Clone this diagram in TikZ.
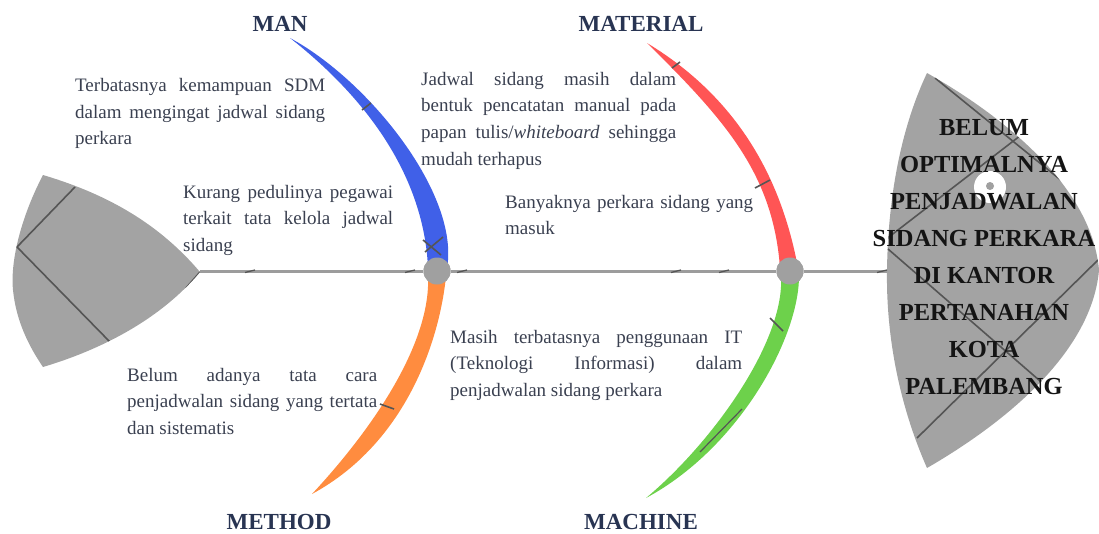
\documentclass[tikz,border=0pt]{standalone}
\usepackage{fontspec}
\setmainfont{Liberation Serif}
\definecolor{bodytext}{RGB}{58,64,80}
\definecolor{titlec}{RGB}{40,52,82}
\definecolor{shapeg}{RGB}{163,163,163}
\definecolor{spineg}{RGB}{156,156,156}
\definecolor{jointc}{RGB}{160,160,160}
\definecolor{darkl}{RGB}{85,85,85}
\definecolor{boneblue}{RGB}{64,96,232}
\definecolor{bonered}{RGB}{255,85,85}
\definecolor{boneorange}{RGB}{255,140,63}
\definecolor{bonegreen}{RGB}{109,209,75}
\newcommand{\jl}[2]{\makebox[#1][s]{#2}}
\begin{document}
\begin{tikzpicture}[x=1pt,y=-1pt,
  txt/.style={inner sep=0pt, text=bodytext, font=\fontsize{19}{26.7}\selectfont},
  ttl/.style={inner sep=0pt, text=titlec, font=\bfseries\fontsize{23}{27}\selectfont},
  hd/.style={inner sep=0pt, text=black!92, font=\bfseries\fontsize{24.5}{37}\selectfont},
  headline/.style={draw=darkl, line width=1.6pt},
  bonetick/.style={draw=darkl, line width=1.6pt},
  joint/.style={circle, fill=jointc, minimum size=27pt, inner sep=0pt}
]
\useasboundingbox (0,0) rectangle (1099,533);
% tail
\def\tailpath{(43,175) .. controls (110,195) and (160,225) .. (200,272)
  .. controls (160,320) and (100,350) .. (43,367)
  .. controls (28,345) and (16,320) .. (13,290)
  .. controls (10,260) and (22,215) .. (43,175) -- cycle}
\fill[shapeg] \tailpath;
\begin{scope}
\clip \tailpath;
\draw[headline] (75,187) -- (17,247) -- (110,342);
\draw[headline] (186,288) -- (200,272);
\end{scope}
% head
\def\headpath{(927,73) .. controls (1010,120) and (1092,190) .. (1099,270)
  .. controls (1092,350) and (1010,420) .. (927,468)
  .. controls (897,400) and (886,330) .. (887,270)
  .. controls (888,200) and (900,130) .. (927,73) -- cycle}
\fill[shapeg] \headpath;
\begin{scope}
\clip \headpath;
\draw[headline] (935,78) -- (1110,220);
\draw[headline] (885,240) -- (1060,105);
\draw[headline] (888,249) -- (1085,420);
\draw[headline] (917,438) -- (1100,258);
\end{scope}
\fill[white] (990,187) circle[radius=16];
\fill[jointc] (990,186) circle[radius=4];
% spine
\coordinate (tailtip) at (200,271);
\coordinate (headleft) at (887,271);
\node[joint] (j1) at (437,271) {};
\node[joint] (j2) at (790,271) {};
\draw[spineg, line width=3pt] (tailtip) -- (j1) -- (j2) -- (headleft);
\foreach \x in {250,410,462,676,724,882}
  \draw[bonetick, line width=1.3pt] (\x-5,272.5) -- (\x+5,270);
% bones
\fill[boneblue] (290,38) .. controls (369,100) and (424,178) .. (428,268)
  -- (447,268) .. controls (460,194) and (368,80) .. (290,38) -- cycle;
\fill[boneorange] (446,276) .. controls (440,337) and (408,442) .. (312,494)
  .. controls (378,423) and (431,340) .. (428,276) -- cycle;
\fill[bonered] (647,43) .. controls (726,121) and (773,174) .. (780,268)
  -- (798,268) .. controls (784,193) and (748,104) .. (647,43) -- cycle;
\fill[bonegreen] (799,276) .. controls (799,338) and (739,448) .. (646,498)
  .. controls (713,442) and (785,341) .. (781,276) -- cycle;
% bone ticks
\draw[bonetick] (362,110) -- (371,103);
\draw[bonetick] (425,252) -- (443,237);
\draw[bonetick] (423,240) -- (441,255);
\draw[bonetick] (672,68) -- (680,62);
\draw[bonetick] (755,188) -- (770,180);
\draw[bonetick] (380,404) -- (394,409);
\draw[bonetick] (770,318) -- (783,331);
\draw[bonetick, line width=1.2pt] (700,452) -- (742,409);
% joints on top
\fill[jointc] (j1) circle[radius=13.5];
\fill[jointc] (j2) circle[radius=13.5];
% titles
\node[ttl] (man) at (280,23.5) {MAN};
\node[ttl] (material) at (641,23.5) {MATERIAL};
\node[ttl] (method) at (279,521.5) {METHOD};
\node[ttl] (machine) at (641,521.5) {MACHINE};
% texts
\node[txt, anchor=base west] (t1) at (75,91.5) {\parbox[t]{250pt}{%
  \jl{250pt}{Terbatasnya kemampuan SDM}\\
  \jl{250pt}{dalam mengingat jadwal sidang}\\
  perkara}};
\node[txt, anchor=base west] (t2) at (183,198) {\parbox[t]{210pt}{%
  \jl{210pt}{Kurang pedulinya pegawai}\\
  \jl{210pt}{terkait tata kelola jadwal}\\
  sidang}};
\node[txt, anchor=base west] (t3) at (421,85) {\parbox[t]{255pt}{%
  \jl{255pt}{Jadwal sidang masih dalam}\\
  \jl{255pt}{bentuk pencatatan manual pada}\\
  \jl{255pt}{papan tulis/\textit{whiteboard} sehingga}\\
  mudah terhapus}};
\node[txt, anchor=base west] (t4) at (505,208) {\parbox[t]{248pt}{%
  \jl{248pt}{Banyaknya perkara sidang yang}\\
  masuk}};
\node[txt, anchor=base west] (t5) at (127,381) {\parbox[t]{250pt}{%
  \jl{250pt}{Belum adanya tata cara}\\
  \jl{250pt}{penjadwalan sidang yang tertata}\\
  dan sistematis}};
\node[txt, anchor=base west] (t6) at (450,343) {\parbox[t]{292pt}{%
  \jl{292pt}{Masih terbatasnya penggunaan IT}\\
  \jl{292pt}{(Teknologi Informasi) dalam}\\
  penjadwalan sidang perkara}};
% head text
\node[hd, anchor=base] (effect) at (984,135) {\parbox[t]{260pt}{\centering
  BELUM\\OPTIMALNYA\\PENJADWALAN\\SIDANG PERKARA\\DI KANTOR\\PERTANAHAN\\KOTA\\PALEMBANG}};
\end{tikzpicture}
\end{document}
